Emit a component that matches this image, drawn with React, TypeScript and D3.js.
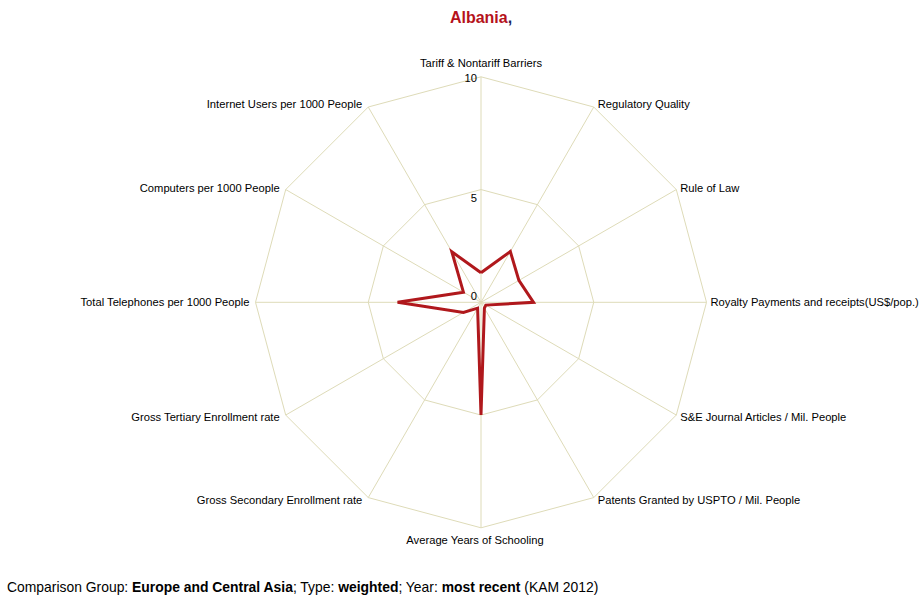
import React from "react";
import * as d3 from "d3";

const axes = [
  "Tariff & Nontariff Barriers",
  "Regulatory Quality",
  "Rule of Law",
  "Royalty Payments and receipts(US$/pop.)",
  "S&E Journal Articles / Mil. People",
  "Patents Granted by USPTO / Mil. People",
  "Average Years of Schooling",
  "Gross Secondary Enrollment rate",
  "Gross Tertiary Enrollment rate",
  "Total Telephones per 1000 People",
  "Computers per 1000 People",
  "Internet Users per 1000 People",
];

const albania = [1.31, 2.6, 1.94, 2.33, 0.25, 0.3, 5.0, 0.3, 0.9, 3.7, 0.9, 2.59];

const ringLevels = [5, 10];
const tickLabels = [0, 5, 10];

const W = 922;
const H = 596;
const cx = 481;
const cy = 302.3;
const R = 225.5;

const GRID = "#dedbb8";
const RED = "#b0181c";
const FONT = "'Liberation Sans', Arial, Helvetica, sans-serif";

export default function App() {
  const r = d3.scaleLinear().domain([0, 10]).range([0, R]);
  const step = (2 * Math.PI) / axes.length;
  const ang = (i: number) => i * step;
  const pt = (i: number, v: number): [number, number] => [
    cx + r(v) * Math.sin(ang(i)),
    cy - r(v) * Math.cos(ang(i)),
  ];

  const ringPath = (lvl: number) =>
    d3.line()(axes.map((_, i) => pt(i, lvl)).concat([pt(0, lvl)])) || "";

  const dataPath =
    d3.line()(albania.map((v, i) => pt(i, v)).concat([pt(0, albania[0])])) || "";

  const tickDy: Record<number, number> = { 0: -5, 5: 9.5, 10: 2 };

  return (
    <svg
      width={W}
      height={H}
      style={{ position: "absolute", left: 0, top: 0, background: "#fff" }}
      fontFamily={FONT}
    >
      <rect width={W} height={H} fill="#fff" />
      {axes.map((a, i) => {
        const [x, y] = pt(i, 10);
        return <line key={a} x1={cx} y1={cy} x2={x} y2={y} stroke={GRID} strokeWidth={1} />;
      })}
      {ringLevels.map((l) => (
        <path key={l} d={ringPath(l)} fill="none" stroke={GRID} strokeWidth={1} />
      ))}
      {tickLabels.map((t) => (
        <text
          key={t}
          x={cx - 4}
          y={cy - r(t) + tickDy[t]}
          textAnchor="end"
          dominantBaseline="middle"
          fontSize={11.2}
          fill="#000"
        >
          {t}
        </text>
      ))}
      {axes.map((a, i) => {
        const [x, y] = pt(i, 10);
        const s = Math.sin(ang(i));
        const c = Math.cos(ang(i));
        let anchor = "middle";
        let tx = x;
        let ty = y;
        if (Math.abs(s) < 0.01) {
          ty = y - 13 * c;
          tx = x - (c < 0 ? 6 : 0);
        } else if (s > 0) {
          anchor = "start";
          tx = x + 4;
          ty = y - 3 * c + 1;
        } else {
          anchor = "end";
          tx = x - 6;
          ty = y - 3 * c + 1;
        }
        return (
          <text
            key={a}
            x={tx}
            y={ty}
            textAnchor={anchor}
            dominantBaseline="middle"
            fontSize={11.2}
            fill="#000"
          >
            {a}
          </text>
        );
      })}
      <path
        d={dataPath}
        fill="none"
        stroke={RED}
        strokeWidth={3}
        strokeLinejoin="miter"
        strokeMiterlimit={6}
      />
      <text x={cx} y={23} textAnchor="middle" fontSize={16} fontWeight="bold">
        <tspan fill="#b5121b">Albania</tspan>
        <tspan fill="#1b1f5e">,</tspan>
      </text>
      <text x={7} y={592} fontSize={13.9} fill="#000">
        <tspan>Comparison Group: </tspan>
        <tspan fontWeight="bold">Europe and Central Asia</tspan>
        <tspan>; Type: </tspan>
        <tspan fontWeight="bold">weighted</tspan>
        <tspan>; Year: </tspan>
        <tspan fontWeight="bold">most recent</tspan>
        <tspan> (KAM 2012)</tspan>
      </text>
    </svg>
  );
}
